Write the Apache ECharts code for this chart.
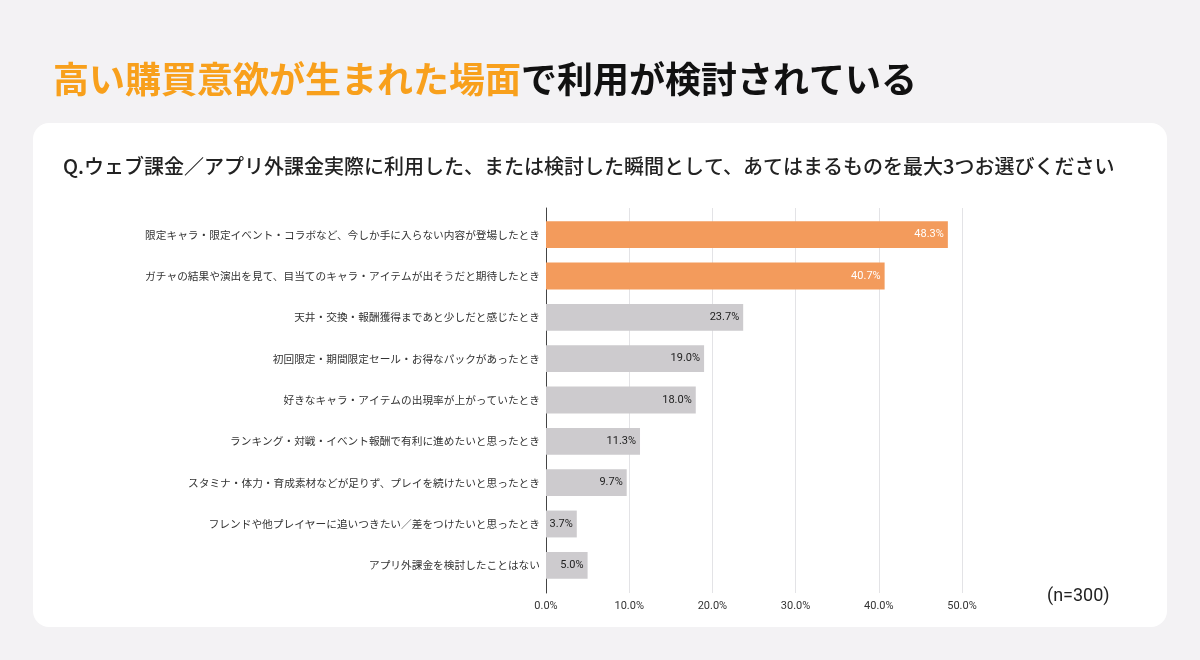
<!DOCTYPE html>
<html>
<head>
<meta charset="utf-8">
<script src="https://cdn.jsdelivr.net/npm/echarts@6/dist/echarts.min.js"></script>
<style>
html,body{margin:0;padding:0;background:#f3f2f4;}
#c{width:1200px;height:660px;}
</style>
</head>
<body>
<div id="c"></div>
<script>
const titleHighlight = '高い購買意欲が生まれた場面';
const titleRest = 'で利用が検討されている';
const question = 'Q.ウェブ課金／アプリ外課金実際に利用した、または検討した瞬間として、あてはまるものを最大3つお選びください';
const sampleNote = '(n=300)';
const categories = [
  '限定キャラ・限定イベント・コラボなど、今しか手に入らない内容が登場したとき',
  'ガチャの結果や演出を見て、目当てのキャラ・アイテムが出そうだと期待したとき',
  '天井・交換・報酬獲得まであと少しだと感じたとき',
  '初回限定・期間限定セール・お得なパックがあったとき',
  '好きなキャラ・アイテムの出現率が上がっていたとき',
  'ランキング・対戦・イベント報酬で有利に進めたいと思ったとき',
  'スタミナ・体力・育成素材などが足りず、プレイを続けたいと思ったとき',
  'フレンドや他プレイヤーに追いつきたい／差をつけたいと思ったとき',
  'アプリ外課金を検討したことはない'
];
const values = [48.3, 40.7, 23.7, 19.0, 18.0, 11.3, 9.7, 3.7, 5.0];
const highlighted = [true, true, false, false, false, false, false, false, false];
const axisMin = 0, axisMax = 50, axisStep = 10;

const ORANGE = '#f39b5c', GRAY = '#cdcbce';
const jp = '"Noto Sans CJK JP", "Noto Sans", sans-serif';
const num = 'Roboto, "Liberation Sans", sans-serif';

const chart = echarts.init(document.getElementById('c'));
chart.setOption({
  backgroundColor: '#f3f2f4',
  animation: false,
  graphic: [
    {type:'rect', z:-10, shape:{x:33, y:123, width:1134, height:504, r:16}, style:{fill:'#ffffff'}},
    {type:'text', left:53, top:61, style:{
      text:'{a|' + titleHighlight + '}{b|' + titleRest + '}',
      rich:{
        a:{fill:'#f8a01c', fontSize:36, fontWeight:'bold', fontFamily:jp},
        b:{fill:'#111111', fontSize:36, fontWeight:'bold', fontFamily:jp}
      }
    }},
    {type:'text', left:63, top:156, style:{text:question, fill:'#222', fontSize:20, fontFamily:jp, fontWeight:500}},
    {type:'text', left:1047, top:587, style:{text:sampleNote, fill:'#222', fontSize:18, fontFamily:num}}
  ],
  grid: [
    {left:546, width:416, top:208, height:385},
    {left:546, width:416, top:214, height:372}
  ],
  xAxis: [
    {gridIndex:0, type:'value', min:axisMin, max:axisMax, interval:axisStep,
     axisLine:{show:false}, axisTick:{show:false},
     splitLine:{lineStyle:{color:'#e3e3e6', width:1}},
     axisLabel:{formatter:v=>v.toFixed(1)+'%', color:'#333', fontSize:11, fontFamily:num, margin:8}},
    {gridIndex:1, type:'value', min:axisMin, max:axisMax, show:false}
  ],
  yAxis: [
    {gridIndex:0, type:'value', min:0, max:1, axisLine:{show:true, lineStyle:{color:'#444', width:1}},
     axisTick:{show:false}, axisLabel:{show:false}, splitLine:{show:false}},
    {gridIndex:1, type:'category', data:categories, inverse:true,
     axisLine:{show:false}, axisTick:{show:false}, splitLine:{show:false},
     axisLabel:{color:'#333', fontSize:10.7, fontFamily:jp, margin:6}}
  ],
  series: [{
    type:'bar', xAxisIndex:1, yAxisIndex:1,
    barCategoryGap:'35%',
    data: values.map((v,i)=>({value:v,
      itemStyle:{color: highlighted[i] ? ORANGE : GRAY},
      label:{color: highlighted[i] ? '#fff' : '#222'}})),
    label:{show:true, position:'insideRight', distance:4, fontSize:11, fontFamily:num,
      formatter:p=>p.value.toFixed(1)+'%'}
  }]
});
</script>
</body>
</html>
